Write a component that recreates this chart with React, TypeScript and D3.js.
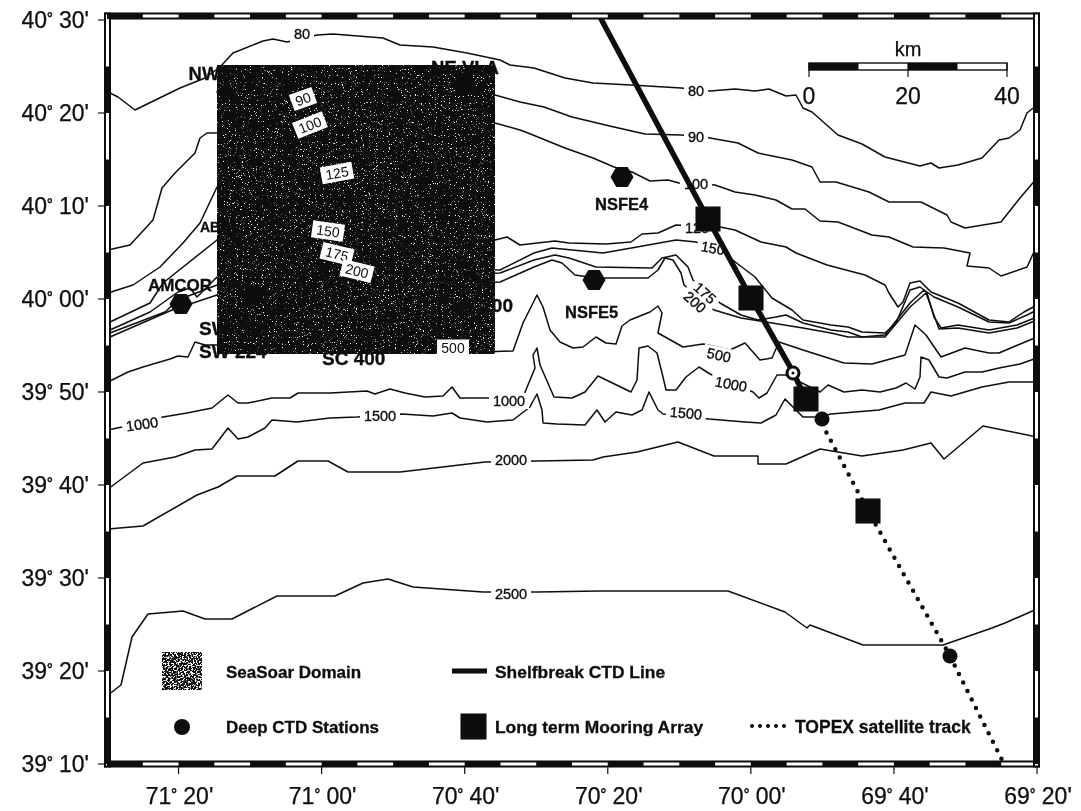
import React from "react";
import * as d3 from "d3";

type Pt = [number, number];

const contour80: Pt[] = [[0.2,134.4],[2.2,133.4],[5.6,130.8],[14.6,135.2],[19.6,137.2],[22.6,139.4],[25.2,142.2],[31.2,144.6],[33.2,145],[36,144.4],[42,145.8],[45.2,146],[55.2,145.2],[58.6,143.8],[65.2,143.4],[72,142.2],[78.6,140.8],[80.6,139.8],[85.4,139.2],[91.6,137.2],[97.2,136.2],[104.8,135.8],[114.8,135.2],[120.6,134.6],[125.6,135],[129.6,134.6],[132.4,135],[135.8,133.6],[137.8,133.8],[139.2,131.2],[141,130.4],[146.2,125.8],[151,124],[155.6,121.4],[162.6,119.6],[164.8,120.2],[166.4,119.2],[170.2,119.8],[175,121.2],[178.4,124.8],[180.4,125.2],[182.6,126.8],[184,130.2],[186,131.8]];
const contour90: Pt[] = [[0.2,102.8],[4.6,103.8],[9.2,108.8],[11,115.2],[13.6,118.2],[17.6,122.2],[18.6,125.2],[20,126.2],[22,126.2],[39.2,133.2],[58.6,134.4],[77.6,133.8],[82.6,132.4],[87.4,131.4],[93,129.4],[101.4,127.4],[107.6,126],[114.8,125.8],[120.6,125.2],[126.2,124.2],[130.2,122.2],[137,120.8],[141,119.4],[142.6,116.4],[145.8,116.4],[152.4,114.4],[156.4,112.4],[162.8,112.4],[168,109.8],[168.8,108.4],[171.6,107.2],[178.8,108.4],[182.6,113.2],[186,117.2]];
const contour100: Pt[] = [[0.2,94.2],[5.2,95.8],[10.6,99.4],[15.2,104.2],[18.6,108.2],[22,115.4],[40.6,127.8],[58.6,129.2],[77.6,128.2],[82.6,126.8],[84.2,126.2],[91.6,123.2],[97.2,121.2],[101.4,119.4],[105,118.4],[108.6,116.6],[112.2,116.8],[114.4,116.2],[121.6,115.8],[125.6,114.4],[129.6,113.8],[133.8,112.8],[137,111],[139.6,111],[142.6,108.6],[146.2,108.4],[153,105.8],[156.4,105.4],[161.2,103.4],[167.4,103.2],[172.6,102.2],[172,99.6],[176.4,99.2],[178.8,97.6],[184,99.4],[185.4,102.4],[186,102.8]];
const contour125: Pt[] = [[0.6,88.4],[8.6,92.2],[11.2,96.2],[22,104.8],[44.6,117.8],[62.6,109.8],[77.6,104.8],[80,105.4],[82.6,103.8],[89.6,104.6],[92.4,104.2],[99.8,104],[104.8,104.4],[107,106],[110.2,106.2],[113.8,107.8],[122.6,107.4],[125.6,106.8],[130.8,104.4],[135.8,103.4],[137.8,102.2],[144,99.8],[151.6,97.8],[155.6,95.8],[156.4,94.2],[158.2,91.4],[159.2,92.4],[160.6,96.2],[162.6,96.6],[164.8,94.4],[170.2,92.2],[176.4,88.8],[180.4,88.4],[183.4,90.4],[186,91.8]];
const contour150: Pt[] = [[0.6,86.8],[8.6,90.4],[14.2,94.4],[16.6,95.2],[18,93.4],[22,97.4],[45,103.8],[62.6,98.8],[78.6,98.8],[85.4,102.2],[89,103.2],[99.2,102.2],[106,103.4],[113.8,104.8],[117.8,104.4],[124.6,101.2],[129.6,97.4],[133,93.2],[137,90.8],[139.2,88.8],[144.8,87.8],[148.2,87.4],[151,86.4],[155.6,86.2],[157.8,88.2],[160.6,94.8],[162.6,95.4],[165.4,93.4],[170.2,91.4],[176.4,88.4],[180.4,88.2],[184,89.8],[186,90.8]];
const contour175: Pt[] = [[0.6,86.2],[11.6,90.4],[14.2,92.8],[22,95.8],[46.6,99.8],[62.6,97.8],[78.6,98.2],[85.4,100.8],[89.6,101.8],[92.4,101.2],[97.8,99.4],[109,99.2],[111,101.2],[113.8,101.8],[116.2,99.4],[117.2,96.8],[122.6,92.2],[126.8,89.8],[130.2,88.8],[133.8,89.4],[135.8,89.8],[139.2,88.2],[144.8,86.8],[148.2,86.4],[151,85.4],[155.6,85.8],[160.6,92.2],[163.4,94.8],[164,94.2],[165.4,89.4],[166.8,87.2],[170.2,87.8],[176.4,86.8],[182,87.8],[186,89.4]];
const contour200: Pt[] = [[0.6,85.4],[13,90.8],[22,93.8],[46.6,97.2],[62.6,95.8],[78.6,96.4],[85.4,99.4],[89,100.8],[91,100.2],[93.6,97.8],[97.8,97.2],[108.2,97.2],[110.2,98.8],[111.6,101.2],[113.2,100.8],[114.8,98.2],[115.4,95.8],[121.4,90.8],[126.8,89.2],[133,88.2],[139.2,87.2],[144.8,86.2],[148.2,85.4],[155.6,85.4],[160.6,91.4],[163.8,94.2],[166.4,87],[170.2,87.2],[176.4,86.2],[182,87.2],[186,88.8]];
const contour500: Pt[] = [[0.2,76.4],[4.2,78.4],[7.2,79.4],[12.6,81],[14.2,81.6],[16.2,81.4],[17.6,84.4],[19.6,83.8],[22,83.8],[48.6,82.4],[74,82.4],[81.2,82.6],[83.2,88.2],[86,93.8],[87.2,91.4],[88.6,86.8],[90.6,84.4],[93.2,83.2],[95.2,83.4],[97.8,85.4],[99.8,84.2],[101.8,84],[103,87.6],[104.6,88.8],[108.6,90.4],[110.2,91.6],[111,90.2],[110.2,86.2],[115.2,83.4],[119.2,84],[124.6,82.8],[127.6,84.2],[130.6,80.8],[133,81.2],[134.4,84.4],[139.2,82.8],[147.4,80.2],[153,80],[159.6,81.8],[161.6,87.8],[163.8,85.8],[166.8,81.4],[171.6,83.2],[176.4,82.2],[178.4,82.2],[181.2,83.4],[186,85.4]];
const contour1000: Pt[] = [[0.2,66.8],[3,67.4],[11.2,69.4],[16,70.2],[21,71.2],[24.2,73.8],[26.2,72.2],[28.2,72.2],[33,73.2],[36.6,73.2],[38.2,74.2],[44.6,74.2],[52,74.6],[53.6,74],[56.6,75],[59.6,74.2],[63.6,73.4],[67.2,73.6],[69,75.4],[70.6,73.2],[76,73.2],[83.2,73.4],[85.6,79.2],[85.2,81.8],[86,83.2],[86.6,79.8],[89.4,73.4],[93,73.2],[95.6,74.4],[98.2,77.6],[104.8,74.4],[106,76.8],[106.4,83.2],[108.2,83.6],[110,82.2],[111.2,77.4],[111.8,74.8],[113.8,74.8],[115.8,77.4],[118.4,79.4],[120.6,78],[129.2,74.4],[130.4,73.2],[132,74.2],[134,77.8],[135.8,77.8],[142.6,74.4],[144.2,75.8],[147.4,74.4],[151,74.8],[154.6,74.4],[157.8,75.2],[159.8,76.2],[161.6,75],[162.6,77.4],[162.8,81.4],[164.4,80.8],[166.4,77.4],[168,77.2],[171.6,78.4],[175,78.4],[178.4,79.2],[182.6,80],[186,81.2]];
const contour1500: Pt[] = [[0.2,55],[7.2,60.2],[13.6,61.4],[17.6,62.8],[21,63],[24.2,67.2],[26.2,65],[28.2,65.4],[31.6,67.2],[33,68.8],[38,68.4],[44.6,69.2],[50,69.4],[59,70],[65.2,69.6],[69,70.2],[70.6,69.2],[76,68.4],[81.2,68.8],[84.6,71.4],[85,72.2],[86,74],[87,70.8],[87.2,68.2],[90,68],[95.6,67.8],[98,70.8],[99.6,68.4],[101.8,70.4],[105,69.8],[107,70.8],[108.4,74.4],[110.2,70.8],[111.2,70],[120.4,69],[127.6,68.4],[130.8,68.2],[133.8,69.8],[135.6,73],[137.8,70.8],[139.2,69.4],[142,69.4],[144.8,70],[154.4,70.8],[159.6,72.2],[163.4,72.2],[164.8,74.4],[168.8,73.6],[175,75.4],[180.4,76.4],[186,76.4]];
const contour2000: Pt[] = [[0.2,47],[7.2,47.6],[18,53.8],[22.2,55.4],[26,57.6],[33.6,57.6],[38.2,60.6],[44.2,60.6],[48.2,58.4],[58.6,58.4],[75.6,60.4],[86,60.6],[97.2,60.8],[99.2,61.4],[106,62.4],[114.2,64.4],[121.4,61.6],[130.2,61.6],[130.2,60],[135.8,60],[142.6,63],[151,61.6],[159.2,62.8],[164.8,64.2],[167.4,61],[175.2,67.6],[186,65.4]];
const contour2500: Pt[] = [[0.2,13.8],[2.8,15.8],[5,25.4],[8.2,30],[15.2,30.6],[19.6,29],[25,29],[34,33.6],[45.6,33.6],[51.2,36.2],[56.2,37],[61.2,35.4],[75.2,34.4],[86,34.4],[98.6,34.6],[124.2,34.6],[135.6,30.4],[140,27.2],[140.6,27.8],[151.2,23.8],[167.2,23.8],[177,27.2],[179.6,28.2],[186,31]];
const contours = [contour80, contour90, contour100, contour125, contour150, contour175, contour200, contour500, contour1000, contour1500, contour2000, contour2500];

// contour labels: text, km east, km north, tilt
const contourLabels: [string, number, number, number][] = [["80",39,146,0],["80",117.8,134.6,0],["90",117.8,125.4,0],["100",117.8,116,0],["125",118,107.2,0],["150",121.2,103.2,10],["175",119.6,94.2,42],["200",117.6,92.4,42],["500",122.4,81.8,12],["1000",7,68,-8],["1000",80.4,72.6,0],["1000",124.8,76,10],["1500",54.6,69.6,0],["1500",115.8,70.2,5],["2000",80.8,60.8,0],["2500",80.8,34,0]];
const domainLabels: [string, number, number, number][] = [["90",39.2,133,-20],["100",40.6,127.8,-22],["125",46,118.2,-10],["150",44.2,106.6,8],["175",46,102,14],["200",50,98.6,14],["500",69.2,83.2,0]];

const seaSoarDomain = { west: 22, east: 77.6, south: 82, north: 139.8 };
const shelfbreakLine: Pt[] = [[98.6,149.4],[120.2,109],[128.8,93.2],[137.2,78.4],[139.8,73]];
const topexTrack: Pt[] = [[143,68],[152.2,50.6],[168.6,21.6],[179.2,0.4]];
const moorings: Pt[] = [[120.2,109],[128.8,93.2],[139.8,73],[152.2,50.6]];
const deepStations: Pt[] = [[143,69],[168.6,21.6]];
const ringStations: Pt[] = [[137.2,78.2]];
const hexStations: Pt[] = [[14.8,92],[29.2,93.8],[71.6,136],[103,117.4],[97.4,96.8]];
const diamondStations: Pt[] = [[23.8,134.4]];
// station names: text, km east, km north, anchor, size
const stationNames: [string, number, number, string, number][] = [["NW VLA",23.6,136.8,"middle",18.5],["NE VLA",71.6,138.1,"middle",18.5],["AMCOR",14.6,94.6,"middle",17],["ABIM",18.6,106.5,"start",14],["NSFE4",97.6,110.8,"start",16.5],["NSFE5",91.6,89.2,"start",16.5],["SW 200",18.4,85.8,"start",19],["SW 224",18.4,81.2,"start",19],["SC 400",43,79.8,"start",19],["SE 200",81.2,90.4,"end",19]];

const lonTickMinutes = [10, 30, 50, 70, 90, 110, 130];
const lonTickLabels = ["71° 20'", "71° 00'", "70° 40'", "70° 20'", "70° 00'", "69° 40'", "69° 20'"];
const latTickMinutes = [80, 70, 60, 50, 40, 30, 20, 10, 0];
const latTickLabels = ["40° 30'", "40° 20'", "40° 10'", "40° 00'", "39° 50'", "39° 40'", "39° 30'", "39° 20'", "39° 10'"];
const scaleBarKm = [0, 10, 20, 30, 40];
const scaleBarLabels = [0, 20, 40];

const ink = "#0c0c0c";
const x = d3.scaleLinear().domain([0, 186]).range([107, 1037]);
const y = d3.scaleLinear().domain([0, 149.6]).range([764, 16]);
const lonX = d3.scaleLinear().domain([0, 130]).range([107, 1037]);
const latY = d3.scaleLinear().domain([0, 80.43]).range([764, 16]);
const line = d3.line<Pt>().x((d) => x(d[0])).y((d) => y(d[1]));
const barX = d3.scaleLinear().domain([0, 40]).range([809, 1007]);
const hexPath = d3.lineRadial<number>().angle((d) => (d * Math.PI) / 3 + Math.PI / 6).radius(11.5).curve(d3.curveLinearClosed)(d3.range(6)) as string;
const diamondPath = d3.lineRadial<number>().angle((d) => (d * Math.PI) / 2).radius(10).curve(d3.curveLinearClosed)(d3.range(4)) as string;

const Degree = ({ text }: { text: string }) => {
  const [deg, min] = text.split("°");
  return (
    <>
      {deg}
      <tspan fontSize={14} fontWeight={700} dy={-5}>°</tspan>
      <tspan dy={5}>{min}</tspan>
    </>
  );
};

export default function App() {
  const segs = d3.range(0, 130, 5);
  const vsegs = d3.range(0, 80, 5);
  const d = seaSoarDomain;
  return (
    <svg width={1081} height={811} style={{ position: "absolute", left: 0, top: 0, display: "block", background: "#fff" }} fontFamily="'Liberation Sans', Arial, sans-serif" fill={ink}>
      <defs>
        <filter id="speck" x="0" y="0" width="100%" height="100%" colorInterpolationFilters="sRGB">
          <feTurbulence type="fractalNoise" baseFrequency="0.85" numOctaves={2} seed={7} />
          <feColorMatrix values="0 0 0 0 1  0 0 0 0 1  0 0 0 0 1  10 0 0 0 -6.55" />
        </filter>
        <filter id="speckLegend" x="0" y="0" width="100%" height="100%" colorInterpolationFilters="sRGB">
          <feTurbulence type="fractalNoise" baseFrequency="0.6" numOctaves={2} seed={11} />
          <feColorMatrix values="0 0 0 0 1  0 0 0 0 1  0 0 0 0 1  10 0 0 0 -5" />
        </filter>
        <filter id="scan" x="0" y="0" width="100%" height="100%">
          <feGaussianBlur stdDeviation="0.35" />
        </filter>
      </defs>
      <rect width={1081} height={811} fill="#fff" />
      <g filter="url(#scan)">
        {contours.map((c, i) => (
          <path key={i} d={line(c) as string} fill="none" stroke={ink} strokeWidth={1.5} strokeLinejoin="round" />
        ))}
        {contourLabels.map(([t, kx, ky, r], i) => (
          <g key={i} transform={`translate(${x(kx)},${y(ky)}) rotate(${r})`}>
            <rect x={-t.length * 4 - 4} y={-8} width={t.length * 8 + 8} height={16} fill="#fff" />
            <text textAnchor="middle" dy="0.36em" fontSize={14.5} stroke={ink} strokeWidth={0.35}>{t}</text>
          </g>
        ))}
        <rect x={x(d.west)} y={y(d.north)} width={x(d.east) - x(d.west)} height={y(d.south) - y(d.north)} fill="#0a0a0a" />
        <rect x={x(d.west)} y={y(d.north)} width={x(d.east) - x(d.west)} height={y(d.south) - y(d.north)} fill="#fff" filter="url(#speck)" />
        {hexStations.map(([kx, ky], i) => (
          <path key={i} transform={`translate(${x(kx)},${y(ky)})`} d={hexPath} />
        ))}
        {diamondStations.map(([kx, ky], i) => (
          <path key={i} transform={`translate(${x(kx)},${y(ky)})`} d={diamondPath} />
        ))}
        {domainLabels.map(([t, kx, ky, r], i) => (
          <g key={i} transform={`translate(${x(kx)},${y(ky)}) rotate(${r})`}>
            <rect x={-t.length * 4 - 4} y={-8.5} width={t.length * 8 + 8} height={17} fill="#fff" />
            <text textAnchor="middle" dy="0.36em" fontSize={14}>{t}</text>
          </g>
        ))}
        <path d={line(shelfbreakLine) as string} fill="none" stroke={ink} strokeWidth={5.5} />
        <path d={line(topexTrack) as string} fill="none" stroke={ink} strokeWidth={4.5} strokeLinecap="round" strokeDasharray="0 9.5" />
        {moorings.map(([kx, ky], i) => (
          <rect key={i} x={x(kx) - 12.5} y={y(ky) - 12.5} width={25} height={25} />
        ))}
        {deepStations.map(([kx, ky], i) => (
          <circle key={i} cx={x(kx)} cy={y(ky)} r={7.5} />
        ))}
        {ringStations.map(([kx, ky], i) => (
          <g key={i}>
            <circle cx={x(kx)} cy={y(ky)} r={6} fill="#fff" stroke={ink} strokeWidth={3} />
            <circle cx={x(kx)} cy={y(ky)} r={1.5} />
          </g>
        ))}
        {stationNames.map(([t, kx, ky, a, s], i) => (
          <text key={i} x={x(kx)} y={y(ky)} textAnchor={a as any} fontSize={s} fontWeight={700} stroke={ink} strokeWidth={0.3}>{t}</text>
        ))}

        {/* frame */}
        <rect x={105} y={13.5} width={934} height={5} fill="#fff" stroke={ink} strokeWidth={2} />
        <rect x={105} y={761.5} width={934} height={5} fill="#fff" stroke={ink} strokeWidth={2} />
        <rect x={105} y={13.5} width={5} height={753} fill="#fff" stroke={ink} strokeWidth={2} />
        <rect x={1034} y={13.5} width={5} height={753} fill="#fff" stroke={ink} strokeWidth={2} />
        {segs.filter((s) => s % 10 === 0).map((s) => (
          <g key={s}>
            <rect x={lonX(s)} y={13} width={lonX(s + 5) - lonX(s)} height={6} />
            <rect x={lonX(s)} y={761} width={lonX(s + 5) - lonX(s)} height={6} />
          </g>
        ))}
        {vsegs.filter((s) => s % 10 === 0).map((s) => (
          <g key={s}>
            <rect x={104} y={latY(s + 5)} width={7} height={latY(s) - latY(s + 5)} />
            <rect x={1033} y={latY(s + 5)} width={7} height={latY(s) - latY(s + 5)} />
          </g>
        ))}
        {lonTickMinutes.map((m, i) => (
          <g key={m}>
            <line x1={lonX(m)} x2={lonX(m)} y1={767} y2={774} stroke={ink} strokeWidth={1.2} />
            <text x={lonX(m) + 1} y={804} textAnchor="middle" fontSize={23} stroke={ink} strokeWidth={0.25}><Degree text={lonTickLabels[i]} /></text>
          </g>
        ))}
        {latTickMinutes.map((m, i) => (
          <g key={m}>
            <line x1={98} x2={104} y1={latY(m)} y2={latY(m)} stroke={ink} strokeWidth={1.2} />
            <text x={89} y={latY(m) + 8} textAnchor="end" fontSize={23} stroke={ink} strokeWidth={0.25}><Degree text={latTickLabels[i]} /></text>
          </g>
        ))}

        {/* scale bar */}
        <rect x={barX(0)} y={63} width={barX(40) - barX(0)} height={7} fill="#fff" stroke={ink} strokeWidth={1.4} />
        {scaleBarKm.slice(0, -1).map((k, i) => i % 2 === 0 && (
          <rect key={k} x={barX(k)} y={63} width={barX(k + 10) - barX(k)} height={7} />
        ))}
        {scaleBarLabels.map((k) => (
          <g key={k}>
            <line x1={barX(k)} x2={barX(k)} y1={63} y2={77} stroke={ink} strokeWidth={1.2} />
            <text x={barX(k)} y={104} textAnchor="middle" fontSize={23} stroke={ink} strokeWidth={0.25}>{k}</text>
          </g>
        ))}
        <text x={barX(20)} y={56} textAnchor="middle" fontSize={20} stroke={ink} strokeWidth={0.25}>km</text>

        {/* legend */}
        <rect x={162} y={652} width={40} height={38} fill="#0a0a0a" />
        <rect x={162} y={652} width={40} height={38} fill="#fff" filter="url(#speckLegend)" />
        <g fontWeight={700} stroke={ink} strokeWidth={0.3}>
          <text x={226} y={678} fontSize={17}>SeaSoar Domain</text>
          <text x={495} y={678} fontSize={17.4}>Shelfbreak CTD Line</text>
          <text x={226} y={733} fontSize={17}>Deep CTD Stations</text>
          <text x={495} y={733} fontSize={17.4}>Long term Mooring Array</text>
          <text x={795} y={733} fontSize={17.5}>TOPEX satellite track</text>
        </g>
        <line x1={452} x2={487} y1={671} y2={671} stroke={ink} strokeWidth={5} />
        <circle cx={182} cy={727} r={8} />
        <rect x={460.5} y={713.5} width={26} height={26} />
        <line x1={752} x2={786} y1={726} y2={726} stroke={ink} strokeWidth={4} strokeLinecap="round" strokeDasharray="0 8" />
      </g>
    </svg>
  );
}
